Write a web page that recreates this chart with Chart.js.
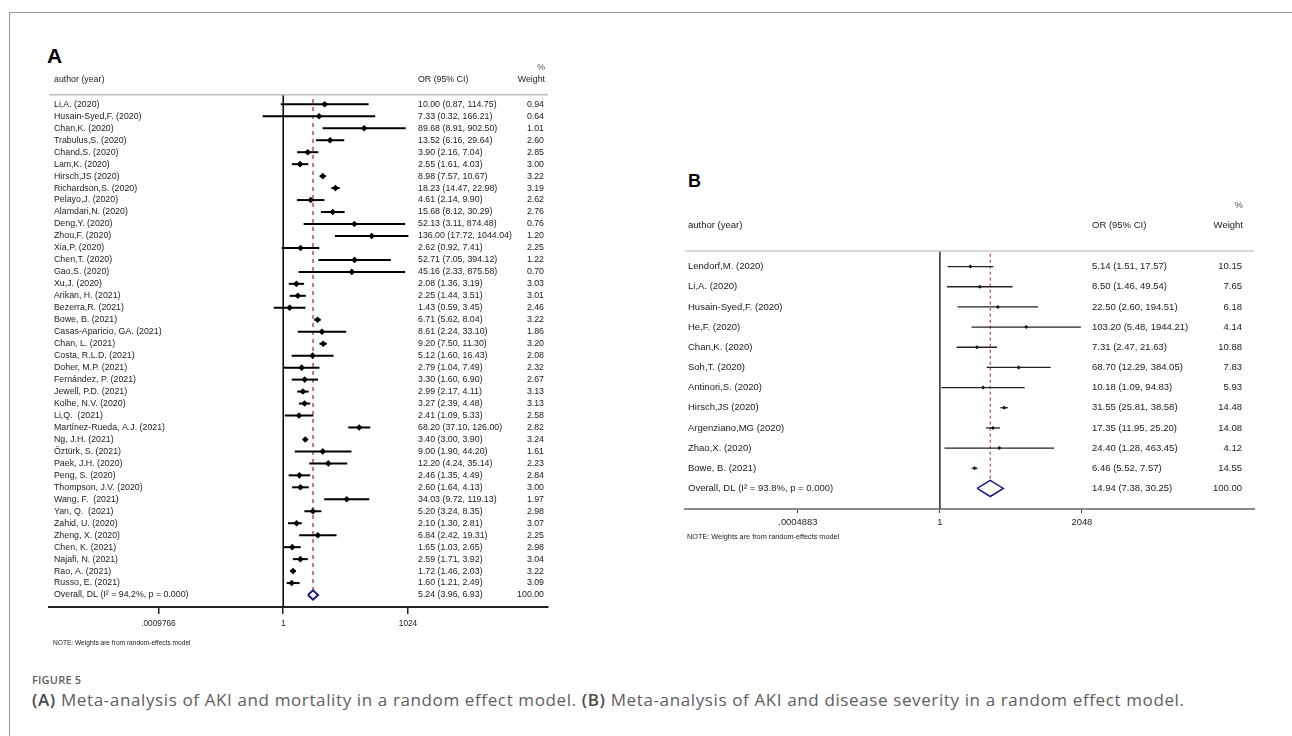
<!DOCTYPE html>
<html lang="en">
<head>
  <meta charset="UTF-8">
  <title>Figure 5</title>
  <script src="https://cdn.jsdelivr.net/npm/chart.js"></script>
  <style>
    body { margin: 0; width: 1292px; height: 736px; overflow: hidden; position: relative; background: #fff; font-family: "Liberation Sans", Arial, sans-serif; }
    .frame { position: absolute; left: 9px; top: 12px; width: 1300px; height: 740px; border-left: 1px solid #9a9a9a; border-top: 1px solid #9a9a9a; }
    canvas { position: absolute; }
    .letter { position: absolute; font-weight: bold; line-height: 1; color: #000; }
    .cap { position: absolute; left: 32px; font-family: "Open Sans", sans-serif; color: #5e5e5e; line-height: 20px; white-space: nowrap; }
    .cap b { font-weight: 600; color: #4a4a4a; }
  </style>
</head>
<body>
  <div class="frame"></div>
  <div class="letter" style="left:47px; top:45px; font-size:21px;">A</div>
  <div class="letter" style="left:688px; top:172px; font-size:18px;">B</div>
  <canvas id="chartA" width="513" height="617" style="left:42px; top:40px;"></canvas>
  <canvas id="chartB" width="584" height="383" style="left:678px; top:170px;"></canvas>
  <div class="cap" style="top:670px; font-size:11px; font-weight:600; letter-spacing:0.2px;">FIGURE 5</div>
  <div class="cap" style="top:690px; font-size:17px; letter-spacing:0.62px;"><b>(A)</b> Meta-analysis of AKI and mortality in a random effect model. <b>(B)</b> Meta-analysis of AKI and disease severity in a random effect model.</div>

  <script>
    // panel A: AKI and mortality
    const namesA = ['Li,A. (2020)', 'Husain-Syed,F. (2020)', 'Chan,K. (2020)', 'Trabulus,S. (2020)', 'Chand,S. (2020)',
      'Lam,K. (2020)', 'Hirsch,JS (2020)', 'Richardson,S. (2020)', 'Pelayo,J. (2020)', 'Alamdari,N. (2020)',
      'Deng,Y. (2020)', 'Zhou,F. (2020)', 'Xia,P. (2020)', 'Chen,T. (2020)', 'Gao,S. (2020)', 'Xu,J. (2020)',
      'Arikan, H. (2021)', 'Bezerra,R. (2021)', 'Bowe, B. (2021)', 'Casas-Aparicio, GA. (2021)', 'Chan, L. (2021)',
      'Costa, R.L.D. (2021)', 'Doher, M.P. (2021)', 'Fernández, P. (2021)', 'Jewell, P.D. (2021)', 'Kolhe, N.V. (2020)',
      'Li,Q.  (2021)', 'Martínez-Rueda, A.J. (2021)', 'Ng, J.H. (2021)', 'Öztürk, S. (2021)', 'Paek, J.H. (2020)',
      'Peng, S. (2020)', 'Thompson, J.V. (2020)', 'Wang, F.  (2021)', 'Yan, Q.  (2021)', 'Zahid, U. (2020)',
      'Zheng, X. (2020)', 'Chen, K. (2021)', 'Najafi, N. (2021)', 'Rao, A. (2021)', 'Russo, E. (2021)'];
    const orA = [10.00, 7.33, 89.68, 13.52, 3.90, 2.55, 8.98, 18.23, 4.61, 15.68, 52.13, 136.00, 2.62, 52.71, 45.16, 2.08,
      2.25, 1.43, 6.71, 8.61, 9.20, 5.12, 2.79, 3.30, 2.99, 3.27, 2.41, 68.20, 3.40, 9.00, 12.20, 2.46, 2.60, 34.03,
      5.20, 2.10, 6.84, 1.65, 2.59, 1.72, 1.60];
    const loA = [0.87, 0.32, 8.91, 6.16, 2.16, 1.61, 7.57, 14.47, 2.14, 8.12, 3.11, 17.72, 0.92, 7.05, 2.33, 1.36,
      1.44, 0.59, 5.62, 2.24, 7.50, 1.60, 1.04, 1.60, 2.17, 2.39, 1.09, 37.10, 3.00, 1.90, 4.24, 1.35, 1.64, 9.72,
      3.24, 1.30, 2.42, 1.03, 1.71, 1.46, 1.21];
    const hiA = [114.75, 166.21, 902.50, 29.64, 7.04, 4.03, 10.67, 22.98, 9.90, 30.29, 874.48, 1044.04, 7.41, 394.12,
      875.58, 3.19, 3.51, 3.45, 8.04, 33.10, 11.30, 16.43, 7.49, 6.90, 4.11, 4.48, 5.33, 126.00, 3.90, 44.20, 35.14,
      4.49, 4.13, 119.13, 8.35, 2.81, 19.31, 2.65, 3.92, 2.03, 2.49];
    const wtA = [0.94, 0.64, 1.01, 2.60, 2.85, 3.00, 3.22, 3.19, 2.62, 2.76, 0.76, 1.20, 2.25, 1.22, 0.70, 3.03,
      3.01, 2.46, 3.22, 1.86, 3.20, 2.08, 2.32, 2.67, 3.13, 3.13, 2.58, 2.82, 3.24, 1.61, 2.23, 2.84, 3.00, 1.97,
      2.98, 3.07, 2.25, 2.98, 3.04, 3.22, 3.09];
    const overallLabelA = 'Overall, DL (I\u00b2 = 94.2%, p = 0.000)';
    const overallA = [5.24, 3.96, 6.93, 100.00];
    const tickValsA = [0.0009765625, 1, 1024];
    const tickLabelsA = ['.0009766', '1', '1024'];

    // panel B: AKI and disease severity
    const namesB = ['Lendorf,M. (2020)', 'Li,A. (2020)', 'Husain-Syed,F. (2020)', 'He,F. (2020)', 'Chan,K. (2020)',
      'Soh,T. (2020)', 'Antinori,S. (2020)', 'Hirsch,JS (2020)', 'Argenziano,MG (2020)', 'Zhao,X. (2020)', 'Bowe, B. (2021)'];
    const orB = [5.14, 8.50, 22.50, 103.20, 7.31, 68.70, 10.18, 31.55, 17.35, 24.40, 6.46];
    const loB = [1.51, 1.46, 2.60, 5.48, 2.47, 12.29, 1.09, 25.81, 11.95, 1.28, 5.52];
    const hiB = [17.57, 49.54, 194.51, 1944.21, 21.63, 384.05, 94.83, 38.58, 25.20, 463.45, 7.57];
    const wtB = [10.15, 7.65, 6.18, 4.14, 10.88, 7.83, 5.93, 14.48, 14.08, 4.12, 14.55];
    const overallLabelB = 'Overall, DL (I\u00b2 = 93.8%, p = 0.000)';
    const overallB = [14.94, 7.38, 30.25, 100.00];
    const tickValsB = [0.00048828125, 1, 2048];
    const tickLabelsB = ['.0004883', '1', '2048'];

    const note = 'NOTE: Weights are from random-effects model';
    const fontFam = '"Liberation Sans", Arial, sans-serif';

    function fmt(v) { return v.toFixed(2); }

    function textPlugin(d, look) {
      return {
        id: 'forestText',
        afterDraw(chart) {
          const { ctx, chartArea: a, scales: { y } } = chart;
          const xName = a.left + look.nameX, xOr = a.left + look.orX, xWt = a.right - look.wtX;
          ctx.save();
          // rule under the header
          ctx.strokeStyle = look.ruleColor;
          ctx.lineWidth = 1.5;
          ctx.beginPath();
          ctx.moveTo(a.left, y.getPixelForValue(look.ruleRow));
          ctx.lineTo(a.right, y.getPixelForValue(look.ruleRow));
          ctx.stroke();

          ctx.fillStyle = '#1a1a1a';
          ctx.textBaseline = 'middle';
          ctx.font = look.fs + 'px ' + fontFam;
          ctx.textAlign = 'left';
          ctx.fillText('author (year)', xName, y.getPixelForValue(look.headRow));
          ctx.fillText('OR (95% CI)', xOr, y.getPixelForValue(look.headRow));
          ctx.textAlign = 'right';
          ctx.fillText('Weight', xWt + 1, y.getPixelForValue(look.headRow));
          ctx.fillStyle = '#555';
          ctx.fillText('%', xWt + 1, y.getPixelForValue(look.pctRow));
          ctx.fillStyle = '#1a1a1a';

          const rows = d.names.map((name, i) => [name, d.or[i], d.lo[i], d.hi[i], d.wt[i]]);
          rows.push([d.overallLabel].concat(d.overall));
          rows.forEach((r, i) => {
            const py = y.getPixelForValue(i);
            ctx.textAlign = 'left';
            ctx.fillText(r[0], xName, py);
            ctx.fillText(fmt(r[1]) + ' (' + fmt(r[2]) + ', ' + fmt(r[3]) + ')', xOr, py);
            ctx.textAlign = 'right';
            ctx.fillText(fmt(r[4]), xWt, py);
          });

          ctx.font = look.noteFs + 'px ' + fontFam;
          ctx.textAlign = 'left';
          ctx.fillText(note, xName - 1, a.bottom + look.noteDy);
          ctx.restore();
        }
      };
    }

    function forest(id, d, look) {
      const n = d.names.length;
      const [est, lo, hi] = d.overall;
      const h = look.diamond;
      const sets = d.names.map((name, i) => ({
        data: [{ x: d.lo[i], y: i }, { x: d.hi[i], y: i }],
        showLine: true, borderColor: look.ciColor, borderWidth: look.ciWidth, pointRadius: 0
      }));
      sets.push({
        data: d.or.map((v, i) => ({ x: v, y: i })),
        pointStyle: 'rectRot', pointRadius: look.mark, backgroundColor: '#000', borderColor: '#000', borderWidth: 0
      });
      sets.push({
        data: [{ x: lo, y: n }, { x: est, y: n - h }, { x: hi, y: n }, { x: est, y: n + h }, { x: lo, y: n }],
        showLine: true, borderColor: '#1c1c80', borderWidth: look.diamondWidth, pointRadius: 0
      });
      sets.push({
        data: [{ x: 1, y: look.ruleRow }, { x: 1, y: look.yMax }],
        showLine: true, borderColor: look.nullColor, borderWidth: look.nullWidth, pointRadius: 0
      });
      sets.push({
        data: [{ x: est, y: look.dashTop }, { x: est, y: n - h }],
        showLine: true, borderColor: '#a3202b', borderWidth: look.dashWidth, borderDash: look.dash, pointRadius: 0
      });

      return new Chart(document.getElementById(id), {
        type: 'scatter',
        data: { datasets: sets },
        options: {
          responsive: false,
          animation: false,
          layout: { padding: look.padding },
          plugins: { legend: { display: false }, tooltip: { enabled: false } },
          scales: {
            x: {
              type: 'logarithmic',
              bounds: 'data',
              min: look.xMin, max: look.xMax,
              afterBuildTicks: s => { s.ticks = d.tickVals.map(v => ({ value: v })); },
              afterFit: s => { s.height = look.axisH; },
              ticks: {
                autoSkip: false, maxRotation: 0, padding: look.tickPad, color: '#222',
                font: { family: fontFam, size: look.tickFs },
                callback: v => d.tickLabels[d.tickVals.indexOf(v)]
              },
              grid: { drawOnChartArea: false, drawTicks: true, tickLength: look.tickLen, color: look.tickColor, lineWidth: look.tickWidth },
              border: { display: true, color: look.axisColor, width: 2 }
            },
            y: { type: 'linear', bounds: 'data', reverse: true, min: look.yMin, max: look.yMax, display: false }
          }
        },
        plugins: [textPlugin(d, look)]
      });
    }

    forest('chartA', {
      names: namesA, or: orA, lo: loA, hi: hiA, wt: wtA,
      overallLabel: overallLabelA, overall: overallA, tickVals: tickValsA, tickLabels: tickLabelsA
    }, {
      padding: { left: 7, right: 7, top: 0, bottom: 20 },
      xMin: Math.pow(2, -18.77), xMax: Math.pow(2, 21.22),
      yMin: -5.04, yMax: 42.0,
      axisH: 30, tickPad: 5, tickLen: 7, tickFs: 8.3, tickColor: '#222', tickWidth: 1.5, axisColor: '#222',
      fs: 8.8, nameX: 5, orX: 369, wtX: 4, noteFs: 6.6, noteDy: 36,
      pctRow: -3.05, headRow: -2.05, ruleRow: -0.8, dashTop: -0.45, ruleColor: '#bdbdbd',
      ciColor: '#000', ciWidth: 2, mark: 3.3, diamond: 0.39, diamondWidth: 2,
      nullColor: '#000', nullWidth: 1.5, dashWidth: 1.2, dash: [4, 4]
    });

    forest('chartB', {
      names: namesB, or: orB, lo: loB, hi: hiB, wt: wtB,
      overallLabel: overallLabelB, overall: overallB, tickVals: tickValsB, tickLabels: tickLabelsB
    }, {
      padding: { left: 7, right: 8, top: 0, bottom: 20 },
      xMin: Math.pow(2, -19.74), xMax: Math.pow(2, 24.33),
      yMin: -4.59, yMax: 12.02,
      axisH: 24, tickPad: 4, tickLen: 4, tickFs: 9.4, tickColor: '#444', tickWidth: 1, axisColor: '#8a8a8a',
      fs: 9.5, nameX: 3, orX: 407, wtX: 12, noteFs: 7.3, noteDy: 28,
      pctRow: -3.02, headRow: -2.04, ruleRow: -0.77, dashTop: -0.64, ruleColor: '#cccccc',
      ciColor: '#222', ciWidth: 1.3, mark: 2, diamond: 0.4, diamondWidth: 1.5,
      nullColor: '#444', nullWidth: 1, dashWidth: 1, dash: [3, 3]
    });
  </script>
</body>
</html>
